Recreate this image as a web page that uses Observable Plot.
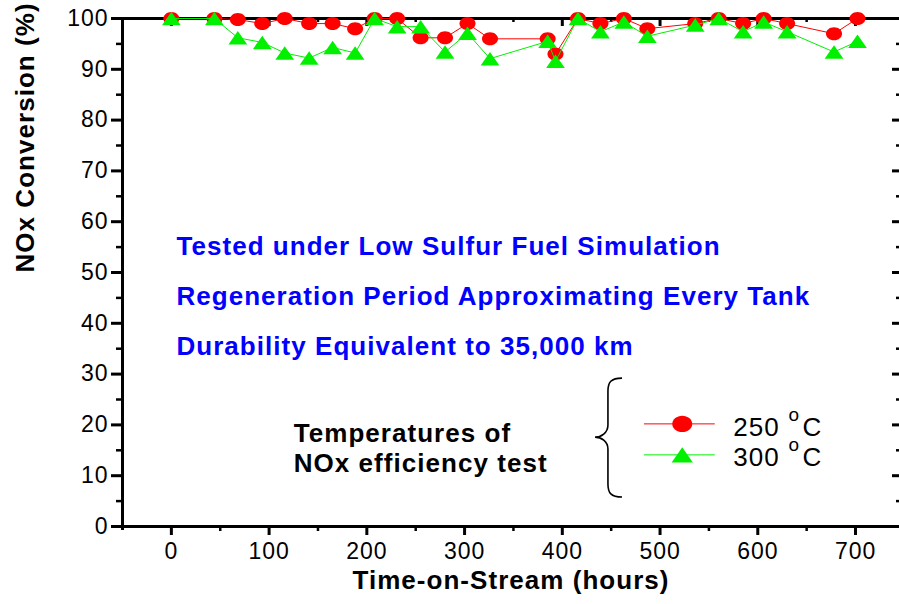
<!DOCTYPE html>
<html>
<head>
<meta charset="utf-8">
<script src="https://cdn.jsdelivr.net/npm/d3@7"></script>
<script src="https://cdn.jsdelivr.net/npm/@observablehq/plot@0.6"></script>
<style>
  body { margin: 0; background: #fff; }
  #chart svg text { letter-spacing: 0.04em; }
</style>
</head>
<body>
<div id="chart"></div>
<script>
// ---- data ----
const hours   = [0, 44, 68, 93, 116, 141, 165, 188, 208, 231, 255, 280, 303, 326, 385, 393, 416, 439, 463, 487, 536, 560, 585, 606, 630, 678, 702];
const conv250 = [100, 100, 99.8, 99, 100, 99, 99, 98, 100, 100, 96.2, 96.2, 99, 96, 96, 93, 100, 99, 100, 98, 99, 100, 99, 100, 99, 97, 100];
const conv300 = [100, 100, 96.2, 95.3, 93.2, 92.2, 94.3, 93.2, 100, 98.4, 98.4, 93.4, 97.1, 92.1, 95.5, 91.6, 100, 97.4, 99.3, 96.5, 98.7, 100, 97.4, 99.3, 97.4, 93.4, 95.5];

const xTicks = [0, 100, 200, 300, 400, 500, 600, 700];
const xMinor = [50, 150, 250, 350, 450, 550, 650];
const yTicks = [0, 10, 20, 30, 40, 50, 60, 70, 80, 90, 100];
const yMinor = [5, 15, 25, 35, 45, 55, 65, 75, 85, 95];

const notes = ["Tested under Low Sulfur Fuel Simulation",
               "Regeneration Period Approximating Every Tank",
               "Durability Equivalent to 35,000 km"];
const testLabel = ["Temperatures of", "NOx efficiency test"];
const seriesTemps = ["250", "300"];
const yLabel = "NOx Conversion (%)";
const xLabel = "Time-on-Stream (hours)";

const RED = "#ff0000", GREEN = "#00f000", BLUE = "#0000ff";

const d250 = hours.map((h, i) => ({h, v: conv250[i]}));
const d300 = hours.map((h, i) => ({h, v: conv300[i]}));

// custom symbols (slightly flattened like the original markers)
const ellipse = {draw(ctx, size) {
  const r = Math.sqrt(size / Math.PI), rx = r * 1.07, ry = r * 0.87, k = 0.5523;
  ctx.moveTo(rx, 0);
  ctx.bezierCurveTo(rx, ry * k, rx * k, ry, 0, ry);
  ctx.bezierCurveTo(-rx * k, ry, -rx, ry * k, -rx, 0);
  ctx.bezierCurveTo(-rx, -ry * k, -rx * k, -ry, 0, -ry);
  ctx.bezierCurveTo(rx * k, -ry, rx, -ry * k, rx, 0);
  ctx.closePath();
}};
const flatTri = {draw(ctx, size) {
  const r = Math.sqrt(size / Math.PI);
  ctx.moveTo(0, -0.9 * r);
  ctx.lineTo(1.25 * r, 0.9 * r);
  ctx.lineTo(-1.25 * r, 0.9 * r);
  ctx.closePath();
}};

const W = 899, H = 604, ML = 122, MR = 0, MT = 18, MB = 78;
const frameW = W - ML - MR, frameH = H - MT - MB;

const chart = Plot.plot({
  width: W, height: H,
  marginLeft: ML, marginRight: MR, marginTop: MT, marginBottom: MB,
  x: {domain: [-50, 745]},
  y: {domain: [0, 100]},
  style: {fontFamily: "'Liberation Sans', Arial, sans-serif", background: "#fff", overflow: "visible", color: "#000"},
  marks: [
    // axes
    Plot.axisY({ticks: yTicks, tickSize: 11, tickPadding: 3, fontSize: 23, strokeWidth: 3, label: null}),
    Plot.axisY({ticks: yMinor, tickSize: 6, tickFormat: () => "", strokeWidth: 2.5, label: null}),
    Plot.axisX({ticks: xTicks, tickSize: 9, tickPadding: 7, fontSize: 23, strokeWidth: 3, label: null}),
    Plot.axisX({ticks: xMinor, tickSize: 5, tickFormat: () => "", strokeWidth: 2.5, label: null}),
    // mirrored inner ticks (top and right)
    Plot.tickX(xTicks, {x: d => d, insetBottom: frameH - 8, strokeWidth: 3}),
    Plot.tickX(xMinor, {x: d => d, insetBottom: frameH - 4, strokeWidth: 2.5}),
    Plot.tickY(yTicks, {y: d => d, insetLeft: frameW - 7, strokeWidth: 3}),
    Plot.tickY(yMinor, {y: d => d, insetLeft: frameW - 3, strokeWidth: 2.5}),
    // frame lines
    Plot.ruleY([0, 100], {strokeWidth: 3}),
    Plot.ruleX([-50], {strokeWidth: 3, insetBottom: -4}),
    // axis titles
    Plot.text([yLabel], {frameAnchor: "left", rotate: -90, dx: -97, fontSize: 26, fontWeight: "bold"}),
    Plot.text([xLabel], {frameAnchor: "bottom", dy: 62, fontSize: 26, fontWeight: "bold"}),
    // series
    Plot.line(d250, {x: "h", y: "v", stroke: RED, strokeWidth: 1}),
    Plot.dot(d250, {x: "h", y: "v", fill: RED, symbol: ellipse, r: 7.5}),
    Plot.line(d300, {x: "h", y: "v", stroke: GREEN, strokeWidth: 1}),
    Plot.dot(d300, {x: "h", y: "v", fill: GREEN, symbol: flatTri, r: 7.5}),
    // annotations
    Plot.text(notes, {x: 5.2, y: [55.1, 45.3, 35.4], text: d => d, textAnchor: "start", fill: BLUE, fontSize: 26, fontWeight: "bold"}),
    Plot.text(testLabel, {x: 125.2, y: [18.2, 12.4], text: d => d, textAnchor: "start", fill: "#000", fontSize: 26, fontWeight: "bold"}),
    // legend
    Plot.ruleY([20.2], {x1: 484, x2: 556.5, stroke: RED, strokeWidth: 1}),
    Plot.dot([0], {x: 522.7, y: 20.2, fill: RED, symbol: ellipse, r: 9.3}),
    Plot.ruleY([14.1], {x1: 484, x2: 556.5, stroke: GREEN, strokeWidth: 1}),
    Plot.dot([0], {x: 522.7, y: 14.1, fill: GREEN, symbol: flatTri, r: 8.5}),
    Plot.text(seriesTemps, {x: 575, y: [19.4, 13.5], text: d => d, textAnchor: "start", fontSize: 26}),
    Plot.text(seriesTemps, {x: 631.4, y: [21.9, 16.0], text: () => "o", textAnchor: "start", fontSize: 19}),
    Plot.text(seriesTemps, {x: 645.7, y: [19.4, 13.5], text: () => "C", textAnchor: "start", fontSize: 26})
  ]
});

// curly brace next to the legend, placed through the plot's scales
const sx = chart.scale("x"), sy = chart.scale("y");
const tipX = sx.apply(434), stemX = sx.apply(447.2), endX = sx.apply(461.6);
const topY = sy.apply(29.1), midY = sy.apply(17.5), botY = sy.apply(5.7);
const p = d3.path();
p.moveTo(endX, topY);
p.bezierCurveTo(stemX + 3, topY, stemX, topY + 4, stemX, topY + 13);
p.lineTo(stemX, midY - 12);
p.bezierCurveTo(stemX, midY - 4, tipX + 6, midY, tipX, midY);
p.bezierCurveTo(tipX + 6, midY, stemX, midY + 4, stemX, midY + 12);
p.lineTo(stemX, botY - 13);
p.bezierCurveTo(stemX, botY - 4, stemX + 3, botY, endX, botY);
d3.select(chart).append("path").attr("d", p.toString())
  .attr("fill", "none").attr("stroke", "#000").attr("stroke-width", 1.6);

document.getElementById("chart").appendChild(chart);
</script>
</body>
</html>
